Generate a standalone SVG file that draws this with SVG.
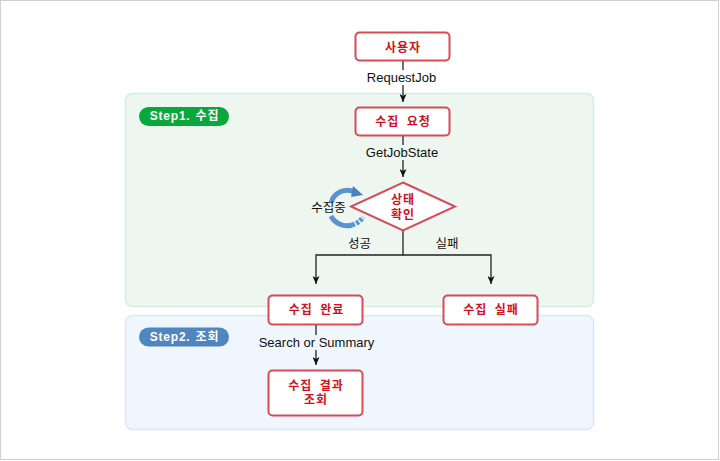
<svg xmlns="http://www.w3.org/2000/svg" width="720" height="461" viewBox="0 0 720 461">
<style>
text{font-family:"Liberation Sans","Noto Sans CJK KR",sans-serif;text-anchor:middle}
.n{fill:#fff;stroke:#d94a58;stroke-width:2}
.t{fill:#cf1020;font-size:12px;font-weight:bold;letter-spacing:1px;word-spacing:3px}
.l{fill:#111;font-size:13px}
.k{fill:#111;font-size:12.500px}
.c{fill:none;stroke:#222;stroke-width:1.300}
.b{fill:#fff;font-size:12px;font-weight:bold;letter-spacing:.8px;word-spacing:1px}
.r{fill:none;stroke:#5b93cf;stroke-width:5}
</style>
<defs><marker id="a" markerUnits="userSpaceOnUse" markerWidth="9" markerHeight="7" refX="8" refY="3.500" orient="auto"><path d="M0 0L8 3.500L0 7L2 3.500Z" fill="#111"/></marker></defs>
<rect x="0.500" y="0.500" width="718" height="459" fill="#fff" stroke="#d0d0d0"/>
<g id="step1"><rect x="125.500" y="93.500" width="468" height="213" rx="7" fill="#edf7f0" stroke="#d3eeda" stroke-width="1.500"/><rect x="139" y="107" width="90" height="19" rx="9.500" fill="#0aa83c"/><text class="b" x="184.500" y="120">Step1. 수집</text></g>
<g id="step2"><rect x="125.500" y="315.500" width="468" height="114" rx="7" fill="#f0f6fe" stroke="#dbe7f7" stroke-width="1.500"/><rect x="139" y="327.500" width="90" height="19" rx="9.500" fill="#4f86c0"/><text class="b" x="184.500" y="341">Step2. 조회</text></g>
<g id="connectors">
<path class="c" d="M403 61V102" marker-end="url(#a)"/>
<path class="c" d="M403 136V177" marker-end="url(#a)"/>
<path class="c" d="M403 231V255H316V284" marker-end="url(#a)"/>
<path class="c" d="M403 255H491V284" marker-end="url(#a)"/>
<path class="c" d="M316 325V365" marker-end="url(#a)"/>
</g>
<g id="edge-labels">
<rect x="364" y="70" width="78" height="15" fill="#fff"/><text class="l" x="401.500" y="82">RequestJob</text>
<rect x="362" y="145" width="82" height="15" fill="#edf7f0"/><text class="l" x="402" y="157">GetJobState</text>
<text class="k" x="359.500" y="248">성공</text><text class="k" x="447" y="248">실패</text>
<rect x="258" y="335" width="118" height="15" fill="#f0f6fe"/><text class="l" x="316.500" y="346.500">Search or Summary</text>
</g>
<g id="loop"><path class="r" d="M331 203A17 17 0 0 1 355 192"/><path d="M353 186L363 195L351 197Z" fill="#4a82c0"/><path class="r" d="M331 216A18 18 0 0 0 352 225"/><path class="r" stroke-dasharray="3 1.500" d="M352 225A18 18 0 0 0 363 217"/></g>
<g id="label-loop"><text class="k" x="328.500" y="212">수집중</text></g>
<g id="node-user"><rect class="n" x="355.500" y="32.500" width="94" height="28" rx="4"/><text class="t" x="403" y="52">사용자</text></g>
<g id="node-request"><rect class="n" x="355.500" y="107.500" width="94" height="28" rx="4"/><text class="t" x="403" y="126">수집 요청</text></g>
<g id="node-check"><path class="n" d="M403 182.500L455 206.500L403 230.500L351 206.500Z"/><text class="t" x="403" y="204">상태</text><text class="t" x="403" y="219">확인</text></g>
<g id="node-done"><rect class="n" x="268.500" y="295.500" width="94" height="29" rx="4"/><text class="t" x="316.500" y="314">수집 완료</text></g>
<g id="node-fail"><rect class="n" x="443.500" y="295.500" width="94" height="29" rx="4"/><text class="t" x="491" y="314">수집 실패</text></g>
<g id="node-result"><rect class="n" x="268.500" y="370.500" width="94" height="45" rx="4"/><text class="t" x="316" y="390">수집 결과</text><text class="t" x="316" y="404">조회</text></g>
</svg>
